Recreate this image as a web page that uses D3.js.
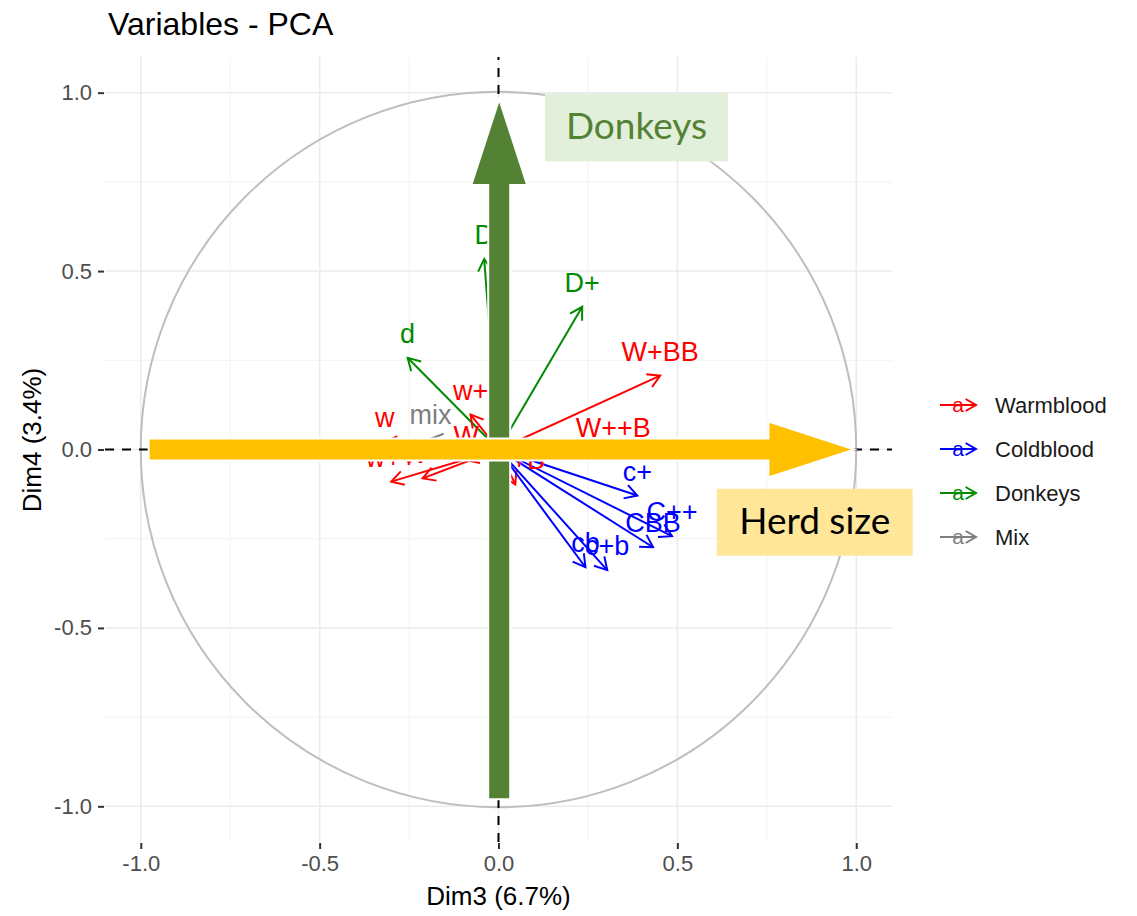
<!DOCTYPE html>
<html>
<head>
<meta charset="utf-8">
<script src="https://cdn.jsdelivr.net/npm/d3@7"></script>
<style>
  body { margin: 0; background: #fff; }
  text { font-family: "Liberation Sans", Arial, sans-serif; }
</style>
</head>
<body>
<div id="chart"></div>
<script>
// variable coordinates on Dim3 / Dim4
const varNames = ["d", "D", "D+", "W+BB", "W++B", "w+", "W", "w", "mix", "w++", "W+", "W+B", "c+", "C++", "CBB", "cb", "c+b"];
const dim3 = [-0.254, -0.04, 0.234, 0.452, 0.321, -0.078, -0.09, -0.318, -0.19, -0.30, -0.212, 0.047, 0.388, 0.485, 0.432, 0.243, 0.304];
const dim4 = [0.257, 0.534, 0.40, 0.207, -0.008, 0.098, -0.03, 0.02, 0.03, -0.09, -0.081, -0.098, -0.129, -0.243, -0.274, -0.33, -0.338];
const varGroup = ["Donkeys", "Donkeys", "Donkeys", "Warmblood", "Warmblood", "Warmblood", "Warmblood", "Warmblood", "Mix",
  "Warmblood", "Warmblood", "Warmblood", "Coldblood", "Coldblood", "Coldblood", "Coldblood", "Coldblood"];
const groups = ["Warmblood", "Coldblood", "Donkeys", "Mix"];
const groupColors = ["#FF0000", "#0000FF", "#008B00", "#7F7F7F"];
const tickValues = [-1.0, -0.5, 0.0, 0.5, 1.0];
const minorTicks = [-0.75, -0.25, 0.25, 0.75];

// overlay annotations (big arrows + boxes)
const annoLabels = ["Donkeys", "Herd size"];

const W = 1137, H = 916;
const svg = d3.select("#chart").append("svg").attr("width", W).attr("height", H);

let x = d3.scaleLinear().domain([-1.1, 1.1]).range([105, 892]);
let y = d3.scaleLinear().domain([-1.1, 1.1]).range([842, 57]);
let color = d3.scaleOrdinal().domain(groups).range(groupColors);

svg.append("text").attr("x", 108).attr("y", 35)
  .attr("font-size", "32px").attr("fill", "#000").text("Variables - PCA");

// grid
let grid = svg.append("g");
grid.selectAll(".vmin").data(minorTicks).enter().append("line")
  .attr("x1", d => x(d)).attr("x2", d => x(d)).attr("y1", y.range()[0]).attr("y2", y.range()[1])
  .attr("stroke", "#F2F2F2").attr("stroke-width", 1);
grid.selectAll(".hmin").data(minorTicks).enter().append("line")
  .attr("y1", d => y(d)).attr("y2", d => y(d)).attr("x1", x.range()[0]).attr("x2", x.range()[1])
  .attr("stroke", "#F2F2F2").attr("stroke-width", 1);
grid.selectAll(".vmaj").data(tickValues).enter().append("line")
  .attr("x1", d => x(d)).attr("x2", d => x(d)).attr("y1", y.range()[0]).attr("y2", y.range()[1])
  .attr("stroke", "#EBEBEB").attr("stroke-width", 1.5);
grid.selectAll(".hmaj").data(tickValues).enter().append("line")
  .attr("y1", d => y(d)).attr("y2", d => y(d)).attr("x1", x.range()[0]).attr("x2", x.range()[1])
  .attr("stroke", "#EBEBEB").attr("stroke-width", 1.5);

// axes
let fmt = d => d.toFixed(1);
let xAxis = svg.append("g").attr("transform", `translate(0,${y.range()[0] + 1})`)
  .call(d3.axisBottom(x).tickValues(tickValues).tickFormat(fmt).tickSize(6).tickPadding(4));
let yAxis = svg.append("g").attr("transform", `translate(${x.range()[0] - 1},0)`)
  .call(d3.axisLeft(y).tickValues(tickValues).tickFormat(fmt).tickSize(6).tickPadding(6));
[xAxis, yAxis].forEach(a => {
  a.select(".domain").remove();
  a.selectAll(".tick line").attr("stroke", "#333").attr("stroke-width", 2);
  a.selectAll(".tick text").attr("font-size", "22px").attr("fill", "#4D4D4D")
    .attr("font-family", "Liberation Sans, Arial, sans-serif");
});
xAxis.selectAll(".tick text").attr("dy", "0.8em");

svg.append("text").attr("x", x(0)).attr("y", 905).attr("text-anchor", "middle")
  .attr("font-size", "26px").text("Dim3 (6.7%)");
svg.append("text").attr("transform", `translate(41,440) rotate(-90)`)
  .attr("text-anchor", "middle").attr("font-size", "26px").text("Dim4 (3.4%)");

// correlation circle
svg.append("circle").attr("cx", x(0)).attr("cy", y(0)).attr("r", x(1) - x(0))
  .attr("fill", "none").attr("stroke", "#BEBEBE").attr("stroke-width", 2);

// dashed zero lines
svg.append("line").attr("x1", x(0)).attr("x2", x(0)).attr("y1", y.range()[0]).attr("y2", y.range()[1])
  .attr("stroke", "#000").attr("stroke-width", 2).attr("stroke-dasharray", "9,8");
svg.append("line").attr("y1", y(0)).attr("y2", y(0)).attr("x1", x.range()[0]).attr("x2", x.range()[1])
  .attr("stroke", "#000").attr("stroke-width", 2).attr("stroke-dasharray", "9,8");

// open arrowhead helper
function arrowHead(g, x0, y0, x1, y1, col, len) {
  let a = Math.atan2(y1 - y0, x1 - x0);
  let spread = Math.PI / 6;
  let p = [[x1 - len * Math.cos(a - spread), y1 - len * Math.sin(a - spread)], [x1, y1],
           [x1 - len * Math.cos(a + spread), y1 - len * Math.sin(a + spread)]];
  g.append("path").attr("d", d3.line()(p)).attr("fill", "none")
    .attr("stroke", col).attr("stroke-width", 2).attr("stroke-linejoin", "miter");
}

let data = varNames.map((n, i) => ({ name: n, x: dim3[i], y: dim4[i], group: varGroup[i] }));

let vars = svg.append("g");
data.forEach(d => {
  let col = color(d.group);
  vars.append("line").attr("x1", x(0)).attr("y1", y(0)).attr("x2", x(d.x)).attr("y2", y(d.y))
    .attr("stroke", col).attr("stroke-width", 2);
  arrowHead(vars, x(0), y(0), x(d.x), y(d.y), col, 14);
});
vars.selectAll(".lbl").data(data).enter().append("text")
  .attr("x", d => x(d.x)).attr("y", d => y(d.y) - 15)
  .attr("text-anchor", "middle").attr("font-size", "27px")
  .attr("fill", d => color(d.group))
  .text(d => d.name);

// legend
let legend = svg.append("g").selectAll(".legend").data(groups).enter().append("g")
  .attr("transform", (d, i) => `translate(940,${405 + i * 44})`);
legend.each(function (d) {
  let g = d3.select(this);
  let col = color(d);
  g.append("line").attr("x1", 0).attr("x2", 36).attr("y1", 0).attr("y2", 0)
    .attr("stroke", col).attr("stroke-width", 2);
  arrowHead(g, 0, 0, 36, 0, col, 12);
  g.append("text").attr("x", 18).attr("y", 7).attr("text-anchor", "middle")
    .attr("font-size", "21px").attr("fill", col).text("a");
});
legend.append("text").attr("x", 55).attr("y", 8).attr("font-size", "22px").attr("fill", "#1A1A1A")
  .text(d => d);

// big overlay arrows
function bigArrow(pts, fill) {
  svg.append("path").attr("d", d3.line()(pts) + "Z").attr("fill", fill)
    .attr("stroke", "#fff").attr("stroke-width", 2).attr("stroke-linejoin", "miter");
}
let sw = 11, hw = 28, hl = 86;
// vertical (Donkeys)
let gx = x(0.002), gb = y(-0.98), gt = y(0.982);
bigArrow([[gx - sw, gb], [gx - sw, gt + hl], [gx - hw, gt + hl], [gx, gt], [gx + hw, gt + hl],
  [gx + sw, gt + hl], [gx + sw, gb]], "#548235");
// horizontal (Herd size)
let hy = y(0), hs = x(-0.978), ht = x(0.995);
bigArrow([[hs, hy - sw], [ht - hl, hy - sw], [ht - hl, hy - hw], [ht, hy], [ht - hl, hy + hw],
  [ht - hl, hy + sw], [hs, hy + sw]], "#FFC000");

// annotation boxes
let boxes = [
  { label: annoLabels[0], bx: 0.13, by: 0.998, w: 183, h: 68, fill: "#E2EFDA", txt: "#548235" },
  { label: annoLabels[1], bx: 0.61, by: -0.11, w: 196, h: 67, fill: "#FFE699", txt: "#000" }
];
boxes.forEach(b => {
  svg.append("rect").attr("x", x(b.bx)).attr("y", y(b.by)).attr("width", b.w).attr("height", b.h)
    .attr("fill", b.fill);
  svg.append("text").attr("x", x(b.bx) + b.w / 2).attr("y", y(b.by) + b.h / 2 + 12)
    .attr("text-anchor", "middle").attr("font-size", "37px").attr("fill", b.txt)
    .style("font-family", "Lato, 'Open Sans', sans-serif").text(b.label);
});
</script>
</body>
</html>
